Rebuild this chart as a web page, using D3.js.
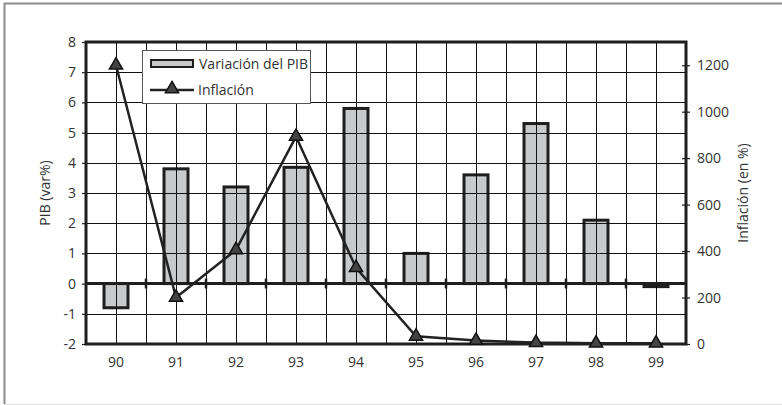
<!DOCTYPE html>
<html>
<head>
<meta charset="utf-8">
<script src="https://cdn.jsdelivr.net/npm/d3@7"></script>
<style>
  body { margin: 0; background: #fff; }
</style>
</head>
<body>
<svg id="chart" width="782" height="405" font-family="'Open Sans', 'DejaVu Sans', sans-serif"></svg>
<script>
// datos
const years = ["90", "91", "92", "93", "94", "95", "96", "97", "98", "99"];
const pib = [-0.8, 3.8, 3.2, 3.85, 5.8, 1.0, 3.6, 5.3, 2.1, -0.1];
const inflacion = [1200, 200, 405, 893, 328, 33, 15, 6, 3, 3];
const pibTicks = [-2, -1, 0, 1, 2, 3, 4, 5, 6, 7, 8];
const inflTicks = [0, 200, 400, 600, 800, 1000, 1200];

const svg = d3.select("#chart");

// area del grafico
const pLeft = 86, pRight = 686, pTop = 42, pBottom = 344;

const x = d3.scaleBand().domain(years).range([pLeft, pRight]).padding(0);
const yL = d3.scaleLinear().domain([-2, 8]).range([pBottom, pTop]);
const yR = d3.scaleLinear().domain([0, 1300]).range([pBottom, pTop]);
const fmt = (d) => String(d);
const cx = (d) => x(d) + x.bandwidth() / 2;

// marco exterior
svg.append("path")
  .attr("d", "M782,3.5H4.5V404")
  .attr("fill", "none").attr("stroke", "#8c8c8c").attr("stroke-width", 2);
svg.append("path")
  .attr("d", "M4,404.5H782")
  .attr("fill", "none").attr("stroke", "#e2e2e2").attr("stroke-width", 1);

// barras del PIB
const barW = 24;
svg.selectAll("rect.bar")
  .data(pib)
  .join("rect")
  .attr("class", "bar")
  .attr("x", (d, i) => cx(years[i]) - barW / 2)
  .attr("y", (d) => yL(Math.max(0, d)))
  .attr("width", barW)
  .attr("height", (d) => Math.abs(yL(d) - yL(0)))
  .attr("fill", "#c8c9cb")
  .attr("stroke", "#1e1e1e")
  .attr("stroke-width", 3);

// cuadricula, como un solo path
const hRows = pibTicks.slice(1, -1).filter((d) => d !== 0);
const vCols = [];
years.forEach((d, i) => {
  vCols.push(cx(d));
  if (i > 0) vCols.push(x(d));
});
svg.append("path")
  .attr("class", "grid")
  .attr("d",
    hRows.map((d) => `M${pLeft},${Math.round(yL(d)) + 0.5}H${pRight}`).join("") +
    vCols.map((d) => `M${Math.round(d) + 0.5},${pTop}V${pBottom}`).join(""))
  .attr("fill", "none")
  .attr("stroke", "#111")
  .attr("stroke-width", 1);

// linea del cero con marcas
const y0 = yL(0);
svg.append("path")
  .attr("d", `M${pLeft},${y0}H${pRight}`)
  .attr("stroke", "#1e1e1e").attr("stroke-width", 3).attr("fill", "none");
svg.append("path")
  .attr("d", years.slice(1).map((d) => `M${x(d)},${y0 - 5}V${y0 + 5}`).join(""))
  .attr("stroke", "#1e1e1e").attr("stroke-width", 2.5).attr("fill", "none");

// ejes
const axL = svg.append("g")
  .attr("transform", `translate(${pLeft},0)`)
  .call(d3.axisLeft(yL).tickValues(pibTicks).tickSize(4).tickPadding(6).tickFormat(fmt));
const axR = svg.append("g")
  .attr("transform", `translate(${pRight},0)`)
  .call(d3.axisRight(yR).tickValues(inflTicks).tickSize(4).tickPadding(7).tickFormat(fmt));
axR.selectAll(".tick line").attr("x1", -4);
const axB = svg.append("g")
  .attr("transform", `translate(0,${pBottom})`)
  .call(d3.axisBottom(x).tickSize(0).tickPadding(13));

[axL, axR, axB].forEach((g) => {
  g.select(".domain").remove();
  g.selectAll(".tick line").attr("stroke", "#1e1e1e").attr("stroke-width", 1.2);
  g.selectAll("text").attr("font-size", 14).attr("fill", "#333")
    .attr("font-family", "'Open Sans', sans-serif");
});

// borde del area
svg.append("rect")
  .attr("x", pLeft).attr("y", pTop)
  .attr("width", pRight - pLeft).attr("height", pBottom - pTop)
  .attr("fill", "none").attr("stroke", "#1e1e1e").attr("stroke-width", 3);

// linea de inflacion
const lineGen = d3.line()
  .x((d, i) => cx(years[i]))
  .y((d) => yR(d));
svg.append("path")
  .datum(inflacion)
  .attr("d", lineGen)
  .attr("fill", "none")
  .attr("stroke", "#222")
  .attr("stroke-width", 2.5);

const tri = d3.symbol().type(d3.symbolTriangle).size(75);
svg.selectAll("path.mk")
  .data(inflacion)
  .join("path")
  .attr("class", "mk")
  .attr("d", tri)
  .attr("transform", (d, i) => `translate(${cx(years[i])},${yR(d)})`)
  .attr("fill", "#444")
  .attr("stroke", "#111")
  .attr("stroke-width", 1.5);

// titulos de ejes
svg.append("text")
  .attr("transform", `translate(50,${(pTop + pBottom) / 2}) rotate(-90)`)
  .attr("text-anchor", "middle")
  .attr("font-size", 14).attr("fill", "#333")
  .text("PIB (var%)");
svg.append("text")
  .attr("transform", `translate(748,${(pTop + pBottom) / 2}) rotate(-90)`)
  .attr("text-anchor", "middle")
  .attr("font-size", 14).attr("fill", "#333")
  .text("Inflación (en %)");

// leyenda
const leg = svg.append("g");
leg.append("rect")
  .attr("x", 142.5).attr("y", 50.5).attr("width", 168).attr("height", 53)
  .attr("fill", "#fff").attr("stroke", "#555").attr("stroke-width", 1);
leg.append("rect")
  .attr("x", 151).attr("y", 60).attr("width", 42).attr("height", 7)
  .attr("fill", "#c8c9cb").attr("stroke", "#1e1e1e").attr("stroke-width", 2);
leg.append("text").attr("x", 199).attr("y", 68.5).attr("font-size", 14).attr("fill", "#333")
  .text("Variación del PIB");
leg.append("path")
  .attr("d", "M150,90H194")
  .attr("stroke", "#222").attr("stroke-width", 2.5);
leg.append("path")
  .attr("d", tri)
  .attr("transform", "translate(172,89)")
  .attr("fill", "#444").attr("stroke", "#111").attr("stroke-width", 1.5);
leg.append("text").attr("x", 198).attr("y", 95).attr("font-size", 14).attr("fill", "#333")
  .text("Inflación");
</script>
</body>
</html>
